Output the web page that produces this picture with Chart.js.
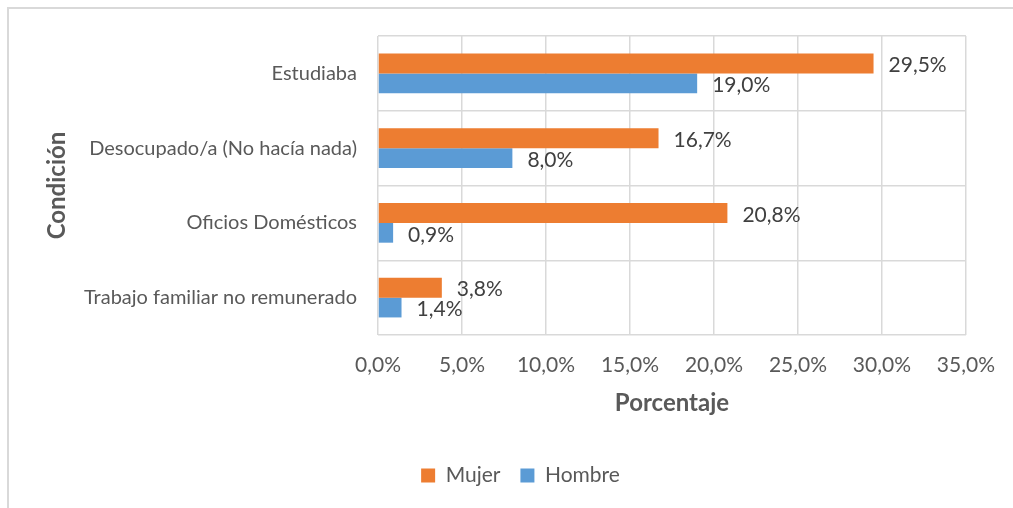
<!DOCTYPE html>
<html>
<head>
<meta charset="utf-8">
<script src="https://cdn.jsdelivr.net/npm/chart.js@4/dist/chart.umd.min.js"></script>
<style>
  html, body { margin: 0; padding: 0; background: #fff; }
  .frame { position: absolute; left: 7px; top: 7px; width: 1006px; height: 501px;
           border-top: 2px solid #d9d9d9; border-left: 2px solid #d9d9d9; box-sizing: border-box; }
  .wrap { position: absolute; left: 0; top: 0; width: 1013px; height: 508px; }
</style>
</head>
<body>
<div class="frame"></div>
<div class="wrap"><canvas id="condChart" width="1013" height="508"></canvas></div>
<script>
/* ── data ── */
const categories = ['Estudiaba', 'Desocupado/a (No hacía nada)', 'Oficios Domésticos', 'Trabajo familiar no remunerado'];
const mujer  = [29.5, 16.7, 20.8, 3.8];
const hombre = [19.0, 8.0, 0.9, 1.4];
const xTicks = [0, 5, 10, 15, 20, 25, 30, 35];

const FONT = 'Lato';
const fmt = v => v.toFixed(1).replace('.', ',') + '%';

// value labels at the end of each bar
const barLabels = {
  id: 'barLabels',
  afterDatasetsDraw(chart) {
    const ctx = chart.ctx;
    ctx.save();
    ctx.font = '21px ' + FONT;
    ctx.fillStyle = '#404040';
    ctx.textAlign = 'left';
    ctx.textBaseline = 'middle';
    chart.data.datasets.forEach(function (ds, i) {
      chart.getDatasetMeta(i).data.forEach(function (bar, j) {
        ctx.fillText(fmt(ds.data[j]), bar.x + 15, bar.y + 2);
      });
    });
    ctx.restore();
  }
};

new Chart(document.getElementById('condChart'), {
  type: 'bar',
  data: {
    labels: categories,
    datasets: [
      { label: 'Mujer',  data: mujer,  backgroundColor: '#ED7D31', categoryPercentage: 0.53, barPercentage: 1 },
      { label: 'Hombre', data: hombre, backgroundColor: '#5B9BD5', categoryPercentage: 0.53, barPercentage: 1 }
    ]
  },
  options: {
    indexAxis: 'y',
    responsive: false,
    animation: false,
    layout: { padding: { left: 74, right: 46, top: 36, bottom: 12 } },
    plugins: {
      tooltip: { enabled: false },
      legend: {
        position: 'bottom',
        labels: { color: '#595959', font: { family: FONT, size: 21 }, boxWidth: 14, boxHeight: 14, padding: 20 }
      }
    },
    scales: {
      x: {
        min: 0, max: 35,
        afterBuildTicks: function (s) { s.ticks = xTicks.map(v => ({ value: v })); },
        afterFit: function (s) { s.height = 110; },
        grid: { color: '#d9d9d9', lineWidth: 1.5, drawTicks: false },
        border: { display: false },
        ticks: { color: '#595959', font: { family: FONT, size: 21 }, padding: 18, callback: v => fmt(v) },
        title: { display: true, text: 'Porcentaje', color: '#595959',
                 font: { family: FONT, size: 24, weight: 'bold' }, padding: { top: 0, bottom: 27 } }
      },
      y: {
        afterFit: function (s) { s.width = 304; },
        grid: { color: '#d9d9d9', lineWidth: 1.5, drawTicks: false },
        border: { display: false },
        ticks: { color: '#595959', font: { family: FONT, size: 20 }, padding: 21 },
        title: { display: true, text: 'Condición', color: '#595959',
                 font: { family: FONT, size: 24, weight: 'bold' }, padding: { top: -31, bottom: 0 } }
      }
    }
  },
  plugins: [barLabels]
});
</script>
</body>
</html>
